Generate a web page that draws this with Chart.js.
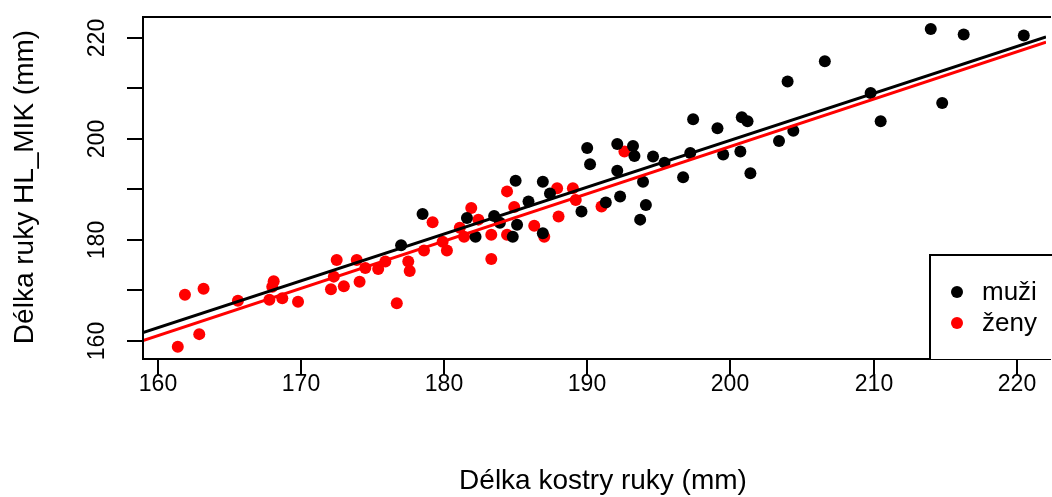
<!DOCTYPE html>
<html>
<head>
<meta charset="utf-8">
<script src="https://cdn.jsdelivr.net/npm/chart.js@4.4.1/dist/chart.umd.min.js"></script>
<style>
  html, body { margin: 0; padding: 0; background: #ffffff; }
  canvas { display: block; }
</style>
</head>
<body>
<canvas id="c" width="1052" height="497"></canvas>
<script>
// ---- data ----
const menX = [178.5, 177.0, 197.4, 199.1, 200.8, 201.2, 190.0, 190.2, 192.1, 193.2, 193.3, 194.6, 195.4, 197.2, 196.7, 199.5, 200.7, 201.4, 192.1, 193.9, 194.1, 193.7, 191.3, 192.3, 189.6, 186.9, 185.0, 187.4, 185.9, 186.9, 184.8, 185.1, 183.5, 182.2, 181.6, 183.9, 214.0, 216.3, 220.5, 206.6, 204.0, 209.8, 214.8, 210.5, 204.4, 203.4];
const menY = [185.1, 178.9, 203.9, 202.1, 204.3, 203.5, 198.2, 195.0, 199.0, 198.6, 196.6, 196.5, 195.3, 197.2, 192.4, 196.9, 197.5, 193.2, 193.7, 191.5, 186.9, 184.0, 187.4, 188.6, 185.6, 191.5, 191.7, 189.2, 187.6, 181.3, 180.6, 183.0, 184.7, 180.6, 184.3, 183.4, 221.8, 220.7, 220.5, 215.4, 211.4, 209.1, 207.1, 203.5, 201.6, 199.6];
const womenX = [161.9, 163.2, 161.4, 162.9, 165.6, 167.8, 168.0, 168.1, 168.7, 169.8, 172.1, 172.5, 172.3, 173.0, 173.9, 174.1, 174.5, 175.4, 175.9, 176.7, 177.5, 177.6, 178.6, 179.2, 179.9, 180.2, 181.1, 192.6, 184.4, 187.9, 189.0, 189.2, 188.0, 191.0, 181.9, 184.9, 186.3, 182.4, 183.3, 181.4, 184.4, 187.0, 183.3];
const womenY = [169.1, 170.3, 158.8, 161.3, 167.9, 168.1, 170.7, 171.8, 168.4, 167.7, 170.2, 176.0, 172.7, 170.8, 176.0, 171.7, 174.4, 174.2, 175.7, 167.4, 175.7, 173.8, 177.9, 183.5, 179.6, 177.9, 182.4, 197.5, 189.6, 190.2, 190.2, 187.9, 184.6, 186.6, 186.3, 186.5, 182.8, 184.0, 181.0, 180.6, 181.0, 180.6, 176.2];
// regression line end points (x at plot edges, y)
const lineX = [158.97, 222.05];
const menLineY = [161.6, 220.2];
const womenLineY = [160.0, 219.2];
// axes
const xRange = [158.97, 222.05];
const yRange = [156.37, 224.17];
const xTicks = [160, 170, 180, 190, 200, 210, 220];
const xTickLabels = ['160', '170', '180', '190', '200', '210', '220'];
const yTicks = [160, 170, 180, 190, 200, 210, 220];
const yTickLabels = ['160', '', '180', '', '200', '', '220'];
const xTitle = 'Délka kostry ruky (mm)';
const yTitle = 'Délka ruky HL_MIK (mm)';
const legendLabels = ['muži', 'ženy'];
const seriesColors = ['#000000', '#ff0000'];

const toPts = (xs, ys) => xs.map((x, i) => ({ x: x, y: ys[i] }));

const FONT = '"Liberation Sans", Arial, sans-serif';

const axesPlugin = {
  id: 'rAxes',
  afterDraw(chart) {
    const ctx = chart.ctx;
    const a = chart.chartArea;
    const xs = chart.scales.x, ys = chart.scales.y;
    ctx.save();
    // box
    ctx.strokeStyle = '#000';
    ctx.lineWidth = 2;
    ctx.beginPath();
    ctx.moveTo(a.right + 5, a.top);
    ctx.lineTo(a.left, a.top);
    ctx.lineTo(a.left, a.bottom);
    ctx.lineTo(a.right + 5, a.bottom);
    ctx.stroke();
    // x ticks
    ctx.fillStyle = '#000';
    ctx.font = '23px ' + FONT;
    ctx.textAlign = 'center';
    ctx.textBaseline = 'middle';
    xTicks.forEach((v, i) => {
      const px = Math.round(xs.getPixelForValue(v));
      ctx.beginPath();
      ctx.moveTo(px, a.bottom);
      ctx.lineTo(px, a.bottom + 16);
      ctx.stroke();
      ctx.fillText(xTickLabels[i], px, 385);
    });
    // y ticks
    yTicks.forEach((v, i) => {
      const py = Math.round(ys.getPixelForValue(v));
      ctx.beginPath();
      ctx.moveTo(a.left, py);
      ctx.lineTo(a.left - 16, py);
      ctx.stroke();
      if (yTickLabels[i]) {
        ctx.save();
        ctx.translate(98, py);
        ctx.rotate(-Math.PI / 2);
        ctx.fillText(yTickLabels[i], 0, 0);
        ctx.restore();
      }
    });
    // titles
    ctx.font = '28px ' + FONT;
    ctx.fillText(xTitle, 603, 481);
    ctx.save();
    ctx.translate(25, 187);
    ctx.rotate(-Math.PI / 2);
    ctx.fillText(yTitle, 0, 0);
    ctx.restore();
    // legend
    const lx = 930, ly = 255;
    ctx.fillStyle = '#fff';
    ctx.fillRect(lx, ly, 1052 - lx + 5, a.bottom - ly);
    ctx.strokeStyle = '#000';
    ctx.lineWidth = 2;
    ctx.beginPath();
    ctx.moveTo(lx, a.bottom);
    ctx.lineTo(lx, ly);
    ctx.lineTo(1060, ly);
    ctx.stroke();
    ctx.textAlign = 'left';
    ctx.font = '26px ' + FONT;
    legendLabels.forEach((lab, i) => {
      const cy = 292 + i * 31;
      ctx.fillStyle = seriesColors[i];
      ctx.beginPath();
      ctx.arc(957, cy, 6, 0, Math.PI * 2);
      ctx.fill();
      ctx.fillStyle = '#000';
      ctx.fillText(lab, 982, cy + 1);
    });
    ctx.restore();
  }
};

new Chart(document.getElementById('c'), {
  type: 'scatter',
  data: {
    datasets: [
      { label: 'muži line', type: 'line', data: toPts(lineX, menLineY), borderColor: seriesColors[0], borderWidth: 3, pointRadius: 0, fill: false, order: 0 },
      { label: 'ženy line', type: 'line', data: toPts(lineX, womenLineY), borderColor: seriesColors[1], borderWidth: 3, pointRadius: 0, fill: false, order: 0 },
      { label: legendLabels[0], data: toPts(menX, menY), backgroundColor: seriesColors[0], borderColor: seriesColors[0], pointRadius: 6, borderWidth: 0, order: 1 },
      { label: legendLabels[1], data: toPts(womenX, womenY), backgroundColor: seriesColors[1], borderColor: seriesColors[1], pointRadius: 6, borderWidth: 0, order: 2 }
    ]
  },
  options: {
    responsive: false,
    animation: false,
    devicePixelRatio: 1,
    layout: { padding: { left: 143, top: 17, right: 0, bottom: 138 } },
    plugins: { legend: { display: false }, tooltip: { enabled: false } },
    scales: {
      x: { type: 'linear', min: xRange[0], max: xRange[1], display: false },
      y: { type: 'linear', min: yRange[0], max: yRange[1], display: false }
    }
  },
  plugins: [axesPlugin]
});
</script>
</body>
</html>
